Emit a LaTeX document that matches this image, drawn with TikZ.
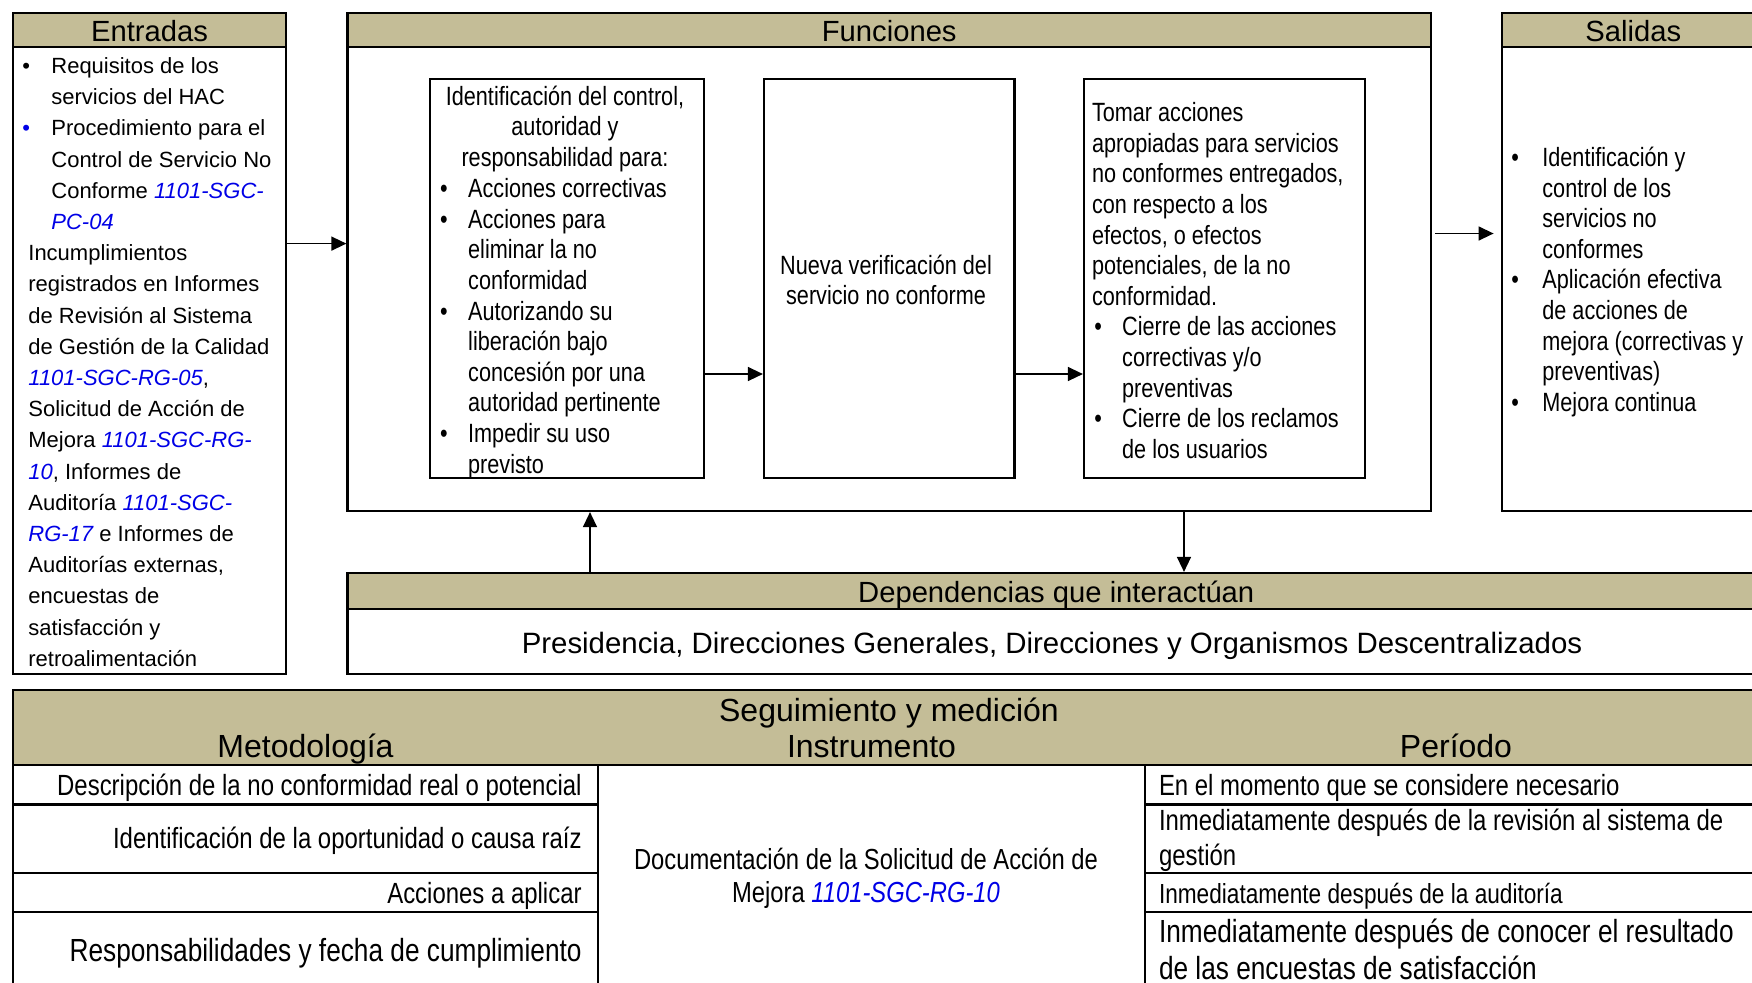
\documentclass[tikz,border=0pt]{standalone}
\usepackage{fontspec}
\setmainfont{Liberation Sans}
\newfontfamily\narrowfont[FakeStretch=0.82]{Liberation Sans}
\usetikzlibrary{arrows.meta,fit,positioning}
\definecolor{headtan}{RGB}{196,189,151}
\definecolor{docblue}{RGB}{0,0,230}
\newcommand{\code}[1]{{\color{docblue}\itshape #1}}
\newcommand{\bul}[1]{\makebox[#1][l]{\textbullet}}

\begin{document}
\begin{tikzpicture}[x=0.5pt,y=-0.5pt,
    panel/.style={draw,line width=1.1pt,inner sep=0pt},
    band/.style={panel,fill=headtan},
    arr/.style={line width=0.7pt,-{Triangle[length=7.5pt,width=7pt]}},
    head/.style={inner sep=0pt,yshift=-0.5pt,font=\fontsize{14.6}{17}\selectfont},
    thead/.style={inner sep=0pt,font=\fontsize{16}{19}\selectfont},
    body/.style={inner sep=0pt,align=left,font=\narrowfont\fontsize{13.2}{15.3}\selectfont},
    row/.style={inner sep=0pt,font=\narrowfont\fontsize{14.6}{17.5}\selectfont}]

	\useasboundingbox (0,0) rectangle (1752,982);
	\clip (0,0) rectangle (1752,982);

	% entradas
	\node[panel,fit={(13,13) (286,674)}] (E) {};
	\node[band,fit={(13,13) (286,47)}] (EH) {};
	\node[head] at (EH.center) {Entradas};
	\node[inner sep=0pt,align=left,anchor=west,font=\fontsize{11}{15.6}\selectfont] (ET) at (22,362) {%
		\bul{14.5pt}Requisitos de los\\
		\hspace*{14.5pt}servicios del HAC\\
		{\color{docblue}\bul{14.5pt}}Procedimiento para el\\
		\hspace*{14.5pt}Control de Servicio No\\
		\hspace*{14.5pt}Conforme \code{1101-SGC-}\\
		\hspace*{14.5pt}\code{PC-04}\\
		\hspace*{3pt}Incumplimientos\\
		\hspace*{3pt}registrados en Informes\\
		\hspace*{3pt}de Revisión al Sistema\\
		\hspace*{3pt}de Gestión de la Calidad\\
		\hspace*{3pt}\code{1101-SGC-RG-05},\\
		\hspace*{3pt}Solicitud de Acción de\\
		\hspace*{3pt}Mejora \code{1101-SGC-RG-}\\
		\hspace*{3pt}\code{10}, Informes de\\
		\hspace*{3pt}Auditoría \code{1101-SGC-}\\
		\hspace*{3pt}\code{RG-17} e Informes de\\
		\hspace*{3pt}Auditorías externas,\\
		\hspace*{3pt}encuestas de\\
		\hspace*{3pt}satisfacción y\\
		\hspace*{3pt}retroalimentación};

	% funciones
	\node[panel,fit={(347.5,13) (1431,511)}] (F) {};
	\node[band,fit={(347.5,13) (1431,47)}] (FH) {};
	\node[head] at (FH.center) {Funciones};

	\node[panel,fit={(430,79) (704,478)}] (F1) {};
	\node[panel,fit={(764,79) (1014.5,478)}] (F2) {};
	\node[panel,fit={(1084,79) (1365,478)}] (F3) {};

	\node[body,align=center] (F1a) at (565,129) {Identificación del control,\\ autoridad y\\ responsabilidad para:};
	\node[body,anchor=west] (F1b) at (439.8,328.5) {%
		\bul{14pt}Acciones correctivas\\
		\bul{14pt}Acciones para\\
		\hspace*{14pt}eliminar la no\\
		\hspace*{14pt}conformidad\\
		\bul{14pt}Autorizando su\\
		\hspace*{14pt}liberación bajo\\
		\hspace*{14pt}concesión por una\\
		\hspace*{14pt}autoridad pertinente\\
		\bul{14pt}Impedir su uso\\
		\hspace*{14pt}previsto};
	\node[body,align=center] (F2a) at (886,280) {Nueva verificación del\\ servicio no conforme};
	\node[body,anchor=west] (F3a) at (1091.6,280.5) {%
		Tomar acciones\\
		apropiadas para servicios\\
		no conformes entregados,\\
		con respecto a los\\
		efectos, o efectos\\
		potenciales, de la no\\
		conformidad.\\
		\hspace*{1.2pt}\bul{13.9pt}Cierre de las acciones\\
		\hspace*{15.1pt}correctivas y/o\\
		\hspace*{15.1pt}preventivas\\
		\hspace*{1.2pt}\bul{13.9pt}Cierre de los reclamos\\
		\hspace*{15.1pt}de los usuarios};

	% salidas
	\node[panel,fit={(1501.7,13) (1765,511)}] (S) {};
	\node[band,fit={(1501.7,13) (1765,47)}] (SH) {};
	\node[head] at (SH.center) {Salidas};
	\node[body,anchor=west] (ST) at (1511,282) {%
		\bul{15.5pt}Identificación y\\
		\hspace*{15.5pt}control de los\\
		\hspace*{15.5pt}servicios no\\
		\hspace*{15.5pt}conformes\\
		\bul{15.5pt}Aplicación efectiva\\
		\hspace*{15.5pt}de acciones de\\
		\hspace*{15.5pt}mejora (correctivas y\\
		\hspace*{15.5pt}preventivas)\\
		\bul{15.5pt}Mejora continua};

	% dependencias
	\node[panel,fit={(347.5,573) (1765,674)}] (D) {};
	\node[band,fit={(347.5,573) (1765,609)}] (DH) {};
	\node[head,yshift=-1.2pt] at (DH.center) {Dependencias que interactúan};
	\node[inner sep=0pt,font=\fontsize{14.7}{17}\selectfont] (DT) at (1052,645.5) {Presidencia, Direcciones Generales, Direcciones y Organismos Descentralizados};

	\coordinate (ya) at (0,243.6);
	\coordinate (yb) at (0,374);
	\coordinate (yc) at (0,233.5);
	\coordinate (xu) at (590,0);
	\coordinate (xd) at (1184,0);
	\draw[arr] (E.east |- ya) -- (F.west |- ya);
	\draw[arr] (F1.east |- yb) -- (F2.west |- yb);
	\draw[arr] (F2.east |- yb) -- (F3.west |- yb);
	\draw[arr,shorten <=1.5pt,shorten >=3.5pt] (F.east |- yc) -- (S.west |- yc);
	\draw[arr] (D.north -| xu) -- (F.south -| xu);
	\draw[arr] (F.south -| xd) -- (D.north -| xd);

	% seguimiento y medicion
	\node[panel,fit={(13,690) (1765,1000)}] (T) {};
	\node[band,fit={(13,690) (1765,765)}] (TH) {};
	\node[thead] at (889,712.8) {Seguimiento y medición};
	\node[thead,anchor=base] (TM) at (305.5,757.5) {Metodología};
	\node[thead,anchor=base] (TI) at (871.5,757.5) {Instrumento};
	\node[thead,anchor=base] (TP) at (1456,757.5) {Período};
	\foreach \t/\b/\n in {765/804.5/1, 804.5/872.6/2, 872.6/911.7/3, 911.7/1000/4} {
		\node[panel,fit={(13,\t) (598,\b)}] (M\n) {};
		\node[panel,fit={(1145,\t) (1765,\b)}] (P\n) {};
	}

	\node[row,anchor=east] (M1t) at (582,787.7) {Descripción de la no conformidad real o potencial};
	\node[row,anchor=east] (M2t) at (582,841.2) {Identificación de la oportunidad o causa raíz};
	\node[row,anchor=east] (M3t) at (582,896.2) {Acciones a aplicar};
	\node[row,anchor=east,font=\narrowfont\fontsize{16}{18.5}\selectfont] (M4t) at (582,953.2) {Responsabilidades y fecha de cumplimiento};

	\node[row,align=center,font=\narrowfont\fontsize{14.5}{16.4}\selectfont] (It) at (866,878.2) {Documentación de la Solicitud de Acción de\\ Mejora \code{1101-SGC-RG-10}};

	\node[row,anchor=west] (P1t) at (1158.6,787.7) {En el momento que se considere necesario};
	\node[row,anchor=west,align=left,font=\narrowfont\fontsize{14.6}{17.2}\selectfont] (P2t) at (1158.6,840.3) {Inmediatamente después de la revisión al sistema de\\ gestión};
	\node[row,anchor=west,font=\narrowfont\fontsize{13.8}{17}\selectfont] (P3t) at (1158.6,896.2) {Inmediatamente después de la auditoría};
	\node[row,anchor=west,align=left,font=\narrowfont\fontsize{16}{18.5}\selectfont] (P4t) at (1158.6,949) {Inmediatamente después de conocer el resultado\\ de las encuestas de satisfacción};
\end{tikzpicture}
\end{document}
